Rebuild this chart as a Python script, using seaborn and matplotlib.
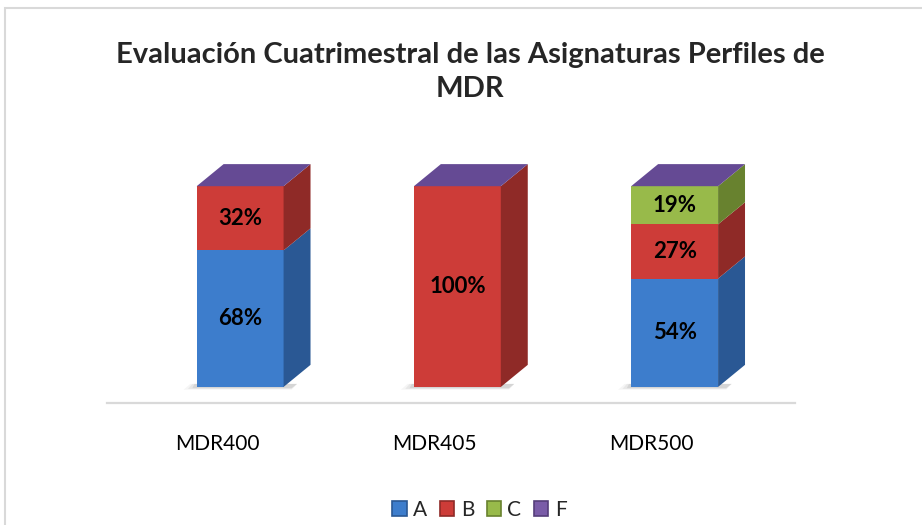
import pandas as pd
import seaborn as sns
import matplotlib.pyplot as plt
from matplotlib.patches import Polygon, Rectangle

categories = ["MDR400", "MDR405", "MDR500"]
series = ["A", "B", "C", "F"]
val_a = [68, 0, 54]
val_b = [32, 100, 27]
val_c = [0, 0, 19]
val_f = [0, 0, 0]

front = {"A": "#3d7dcc", "B": "#cd3c38", "C": "#98ba4a", "F": "#7a5ca8"}
side = {"A": "#2a5894", "B": "#8f2a27", "C": "#68822f", "F": "#553e7a"}
top_col = "#654a94"

df = pd.DataFrame({"cat": categories, "A": val_a, "B": val_b, "C": val_c, "F": val_f})
cum = df[series].cumsum(axis=1)

sns.set_theme(style="white")
plt.rcParams["font.family"] = ["Lato", "DejaVu Sans"]

fig = plt.figure(figsize=(9.22, 5.25), dpi=100)
ax = fig.add_axes([0.116, 0.2324, 0.746, 0.52])

# stacked front faces: draw cumulative totals from the top series down
width = 0.4
bars = {}
for s in reversed(series):
    n0 = len(ax.patches)
    sns.barplot(x=df["cat"], y=cum[s], color=front[s], width=width,
                saturation=1, linewidth=0, ax=ax, zorder=3)
    bars[s] = ax.patches[n0:]

# 3d depth of the bars
dx, dy = 0.124, 11
for i in range(len(categories)):
    p = bars["A"][i]
    xl = p.get_x()
    xr = xl + p.get_width()
    # soft floor shadow
    for k, a in enumerate([0.06, 0.09, 0.13]):
        g = 0.06 - k * 0.02
        ax.add_patch(Polygon([(xl - g, -1.4 + k * 0.4), (xr + dx * 0.3, -1.4 + k * 0.4),
                              (xr + dx * 0.5, 1.5), (xl - g * 0.5, 1.5)],
                             closed=True, color="#606060", alpha=a, lw=0, zorder=1))
    bottom = 0
    for s in series:
        v = df[s][i]
        if v > 0:
            ax.add_patch(Polygon([(xr, bottom), (xr, bottom + v),
                                  (xr + dx, bottom + v + dy), (xr + dx, bottom + dy)],
                                 closed=True, color=side[s], lw=0, zorder=3))
            if s != "F":
                ax.text((xl + xr) / 2, bottom + v / 2, f"{v}%", ha="center", va="center",
                        fontsize=16, fontweight="bold", color="black", zorder=5)
        bottom += v
    T = cum.iloc[i, -1]
    ax.add_patch(Polygon([(xl, T), (xr, T), (xr + dx, T + dy), (xl + dx, T + dy)],
                         closed=True, color=top_col, lw=0, zorder=3))

ax.set_xlim(-0.613, 2.553)
ax.set_ylim(-8, 128)
ax.set_yticks([])
ax.set_xticks([i - 0.105 for i in range(len(categories))], categories)
ax.tick_params(axis="x", length=0, pad=22, labelsize=15, labelcolor="black")
ax.set_xlabel("")
ax.set_ylabel("")
for sp in ["top", "left", "right"]:
    ax.spines[sp].set_visible(False)
ax.spines["bottom"].set_color("#d9d9d9")
ax.spines["bottom"].set_linewidth(1.6)
ax.patch.set_alpha(0)

fig.text(0.51, 0.863, "Evaluación Cuatrimestral de las Asignaturas Perfiles de\nMDR",
         ha="center", va="center", fontsize=21, fontweight="bold", linespacing=1.4)

handles = [Rectangle((0, 0), 1, 1, facecolor=front[s], edgecolor=side[s], lw=1.2) for s in series]
fig.legend(handles, series, loc="center", bbox_to_anchor=(0.52, 0.029), ncol=4, frameon=False,
           fontsize=15, handlelength=0.7, handleheight=0.7, handletextpad=0.3, columnspacing=0.6)

# chart area border
fig.patches.append(Rectangle((5 / 922, -0.1), 1.2, 1 - 8 / 525 + 0.1, transform=fig.transFigure,
                             fill=False, edgecolor="#d9d9d9", lw=1.5, zorder=0))

fig.savefig("out.png", dpi=100, facecolor="white")
